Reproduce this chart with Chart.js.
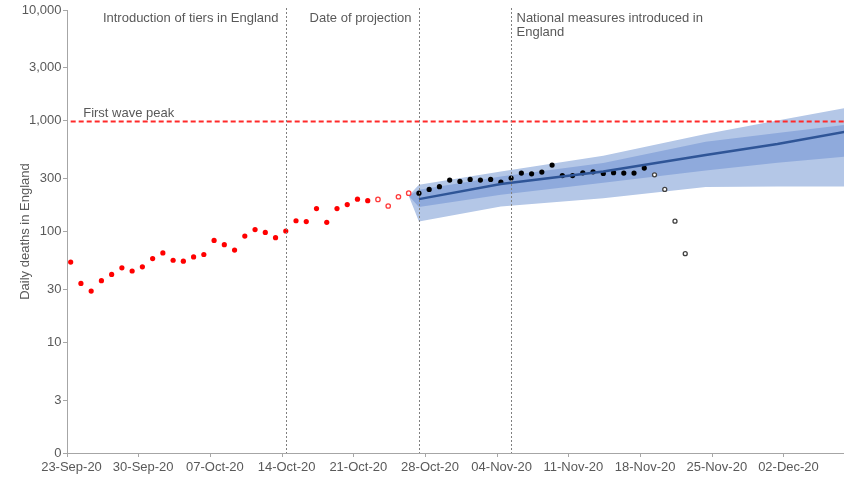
<!DOCTYPE html>
<html>
<head>
<meta charset="utf-8">
<script src="https://cdn.jsdelivr.net/npm/chart.js@4.4.1/dist/chart.umd.min.js"></script>
<style>
  html, body { margin: 0; padding: 0; background: #fff; }
  #wrap { width: 844px; height: 484px; }
</style>
</head>
<body>
<div id="wrap"><canvas id="deathsChart" width="844" height="484"></canvas></div>
<script>
// x values are days counted from 23-Sep-20
const xTickLabels = ['23-Sep-20', '30-Sep-20', '07-Oct-20', '14-Oct-20', '21-Oct-20', '28-Oct-20',
    '04-Nov-20', '11-Nov-20', '18-Nov-20', '25-Nov-20', '02-Dec-20'];
const yTickValues = [1, 3, 10, 30, 100, 300, 1000, 3000, 10000];
const yTickLabels = ['0', '3', '10', '30', '100', '300', '1,000', '3,000', '10,000'];

// reported daily deaths
const reportedStart = 0;
const reportedDeaths = [53, 34, 29, 36, 41, 47, 44, 48, 57, 64, 55, 54, 59, 62, 83, 76, 68, 91,
    104, 98, 88, 101, 125, 123, 161, 121, 161, 175, 196, 190];
const incompleteStart = 30;
const incompleteDeaths = [195, 170, 206, 222];
const laterStart = 34;
const laterDeaths = [222, 240, 254, 291, 283, 295, 291, 295, 279, 304, 337, 332, 344, 398, 320,
    320, 339, 346, 334, 340, 337, 337, 374];
const laterIncompleteStart = 57;
const laterIncompleteDeaths = [325, 240, 124, 63];

// projection made on 27-Oct-20
const projDays = [33, 34, 42, 52, 62, 69, 76];
const projMedian = [null, 196, 268, 348, 490, 617, 805];
const projInnerHigh = [210, 238, 314, 415, 645, 775, 925];
const projInnerLow = [210, 166, 215, 275, 355, 418, 478];
const projOuterHigh = [210, 264, 348, 482, 760, 1004, 1320];
const projOuterLow = [210, 123, 168, 200, 252, 255, 255];

const firstWavePeak = 985;
const events = [
    { day: 21, lines: ['Introduction of tiers in England'], side: 'left' },
    { day: 34, lines: ['Date of projection'], side: 'left' },
    { day: 43, lines: ['National measures introduced in', 'England'], side: 'right' },
];

const X_MIN = -0.36;
const X_MAX = 75.5;
const FONT = "'Liberation Sans', Arial, sans-serif";
const TEXT = '#595959';
const AXIS = '#a6a6a6';

const series = (start, values) => values.map((v, i) => ({ x: start + i, y: v }));
const band = (values) => projDays.map((d, i) => ({ x: d, y: values[i] })).filter((p) => p.y !== null);

const annotations = {
    id: 'annotations',
    afterDatasetsDraw(chart) {
        const { ctx, chartArea, scales } = chart;
        const x = scales.x;
        const y = scales.y;
        ctx.save();
        ctx.font = `13px ${FONT}`;
        ctx.fillStyle = TEXT;
        ctx.textBaseline = 'middle';
        events.forEach((ev) => {
            const px = Math.round(x.getPixelForValue(ev.day)) + 0.5;
            ctx.strokeStyle = '#7f7f7f';
            ctx.lineWidth = 1;
            ctx.setLineDash([2, 2]);
            ctx.beginPath();
            ctx.moveTo(px, chartArea.top - 2);
            ctx.lineTo(px, chartArea.bottom);
            ctx.stroke();
            ctx.textAlign = ev.side === 'left' ? 'right' : 'left';
            const tx = ev.side === 'left' ? px - 8 : px + 5;
            ev.lines.forEach((line, i) => ctx.fillText(line, tx, 18.5 + i * 14));
        });
        ctx.textAlign = 'left';
        ctx.fillText('First wave peak', x.getPixelForValue(0) + 12.5, y.getPixelForValue(firstWavePeak) - 8.5);

        // y axis title
        ctx.translate(25, (chartArea.top + chartArea.bottom) / 2);
        ctx.rotate(-Math.PI / 2);
        ctx.textAlign = 'center';
        ctx.fillText('Daily deaths in England', 0, 0);
        ctx.restore();
    },
};

const dot = (color, radius) => ({
    type: 'line', showLine: false, pointRadius: radius, pointHoverRadius: radius,
    pointBackgroundColor: color, pointBorderWidth: 0, order: 2,
});
const ring = (color, radius) => ({
    type: 'line', showLine: false, pointRadius: radius, pointHoverRadius: radius,
    pointBackgroundColor: '#ffffff', pointBorderColor: color, pointBorderWidth: 1.3, order: 2,
});

new Chart(document.getElementById('deathsChart').getContext('2d'), {
    type: 'line',
    data: {
        datasets: [
            // 0,1: 90% interval
            { data: band(projOuterHigh), fill: 1, backgroundColor: '#b4c7e7', borderWidth: 0, pointRadius: 0, order: 5 },
            { data: band(projOuterLow), fill: false, borderWidth: 0, pointRadius: 0, order: 5 },
            // 2,3: 50% interval
            { data: band(projInnerHigh), fill: 3, backgroundColor: '#8faadc', borderWidth: 0, pointRadius: 0, order: 4 },
            { data: band(projInnerLow), fill: false, borderWidth: 0, pointRadius: 0, order: 4 },
            { ...dot('#ff0000', 2.6), data: series(reportedStart, reportedDeaths) },
            { ...ring('#ff3b3b', 2.2), data: series(incompleteStart, incompleteDeaths) },
            { ...dot('#000000', 2.6), data: series(laterStart, laterDeaths) },
            { ...ring('#404040', 2.0), data: series(laterIncompleteStart, laterIncompleteDeaths) },
            { data: band(projMedian), borderColor: '#2f5597', borderWidth: 2.5, pointRadius: 0, fill: false, order: 1 },
            {
                data: [{ x: 0, y: firstWavePeak }, { x: X_MAX, y: firstWavePeak }],
                borderColor: '#ff2a2a', borderWidth: 2, borderDash: [5, 3], pointRadius: 0, fill: false, order: 0,
            },
        ],
    },
    options: {
        responsive: false,
        animation: false,
        events: [],
        layout: { autoPadding: false, padding: { top: 10, right: 0, bottom: 0, left: 0 } },
        plugins: { legend: { display: false }, tooltip: { enabled: false } },
        scales: {
            x: {
                type: 'linear',
                min: X_MIN,
                max: X_MAX,
                afterBuildTicks: (scale) => {
                    scale.ticks = xTickLabels.map((_, k) => ({ value: k * 7 + X_MIN }));
                },
                afterFit: (scale) => { scale.height = 31; },
                ticks: {
                    autoSkip: false, maxRotation: 0, padding: 3, labelOffset: 4.5,
                    color: TEXT, font: { family: FONT, size: 13 },
                    callback: (v, i) => xTickLabels[i],
                },
                grid: { drawOnChartArea: false, drawTicks: true, tickLength: 4, color: AXIS },
                border: { color: AXIS },
            },
            y: {
                type: 'logarithmic',
                min: 1,
                max: 10000,
                afterBuildTicks: (scale) => {
                    scale.ticks = yTickValues.map((v) => ({ value: v }));
                },
                afterFit: (scale) => { scale.width = 67; },
                ticks: {
                    autoSkip: false, padding: 1.5,
                    color: TEXT, font: { family: FONT, size: 13 },
                    callback: (v, i) => yTickLabels[i],
                },
                grid: { drawOnChartArea: false, drawTicks: true, tickLength: 4, color: AXIS },
                border: { color: AXIS },
            },
        },
    },
    plugins: [annotations],
});
</script>
</body>
</html>
